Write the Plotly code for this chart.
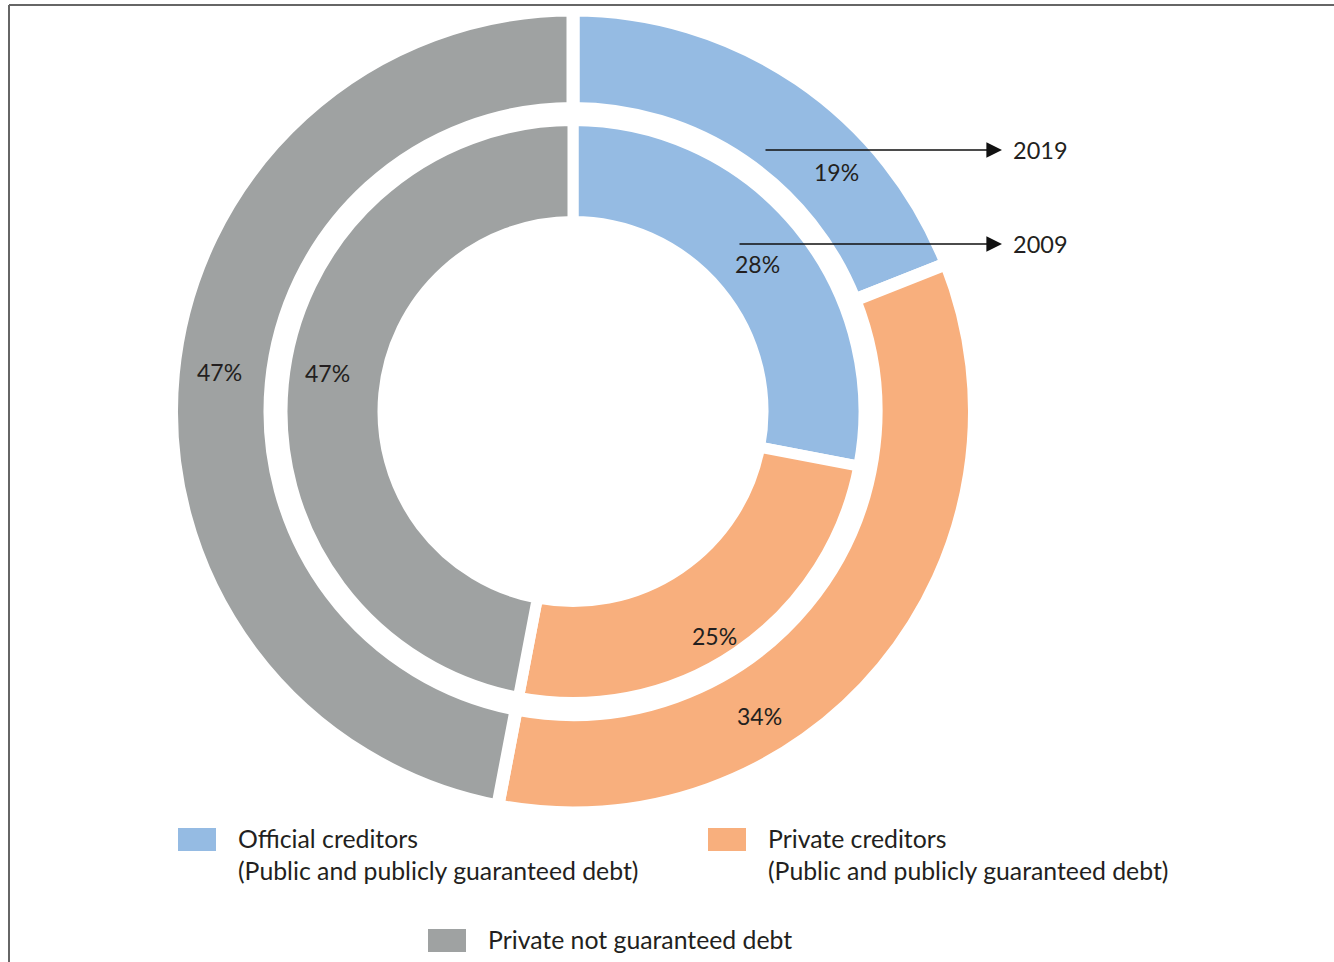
import plotly.graph_objects as go
import math

W, H = 1334, 962

categories = ["Official creditors", "Private creditors", "Private not guaranteed debt"]
legend_lines = ["Official creditors<br>(Public and publicly guaranteed debt)",
                "Private creditors<br>(Public and publicly guaranteed debt)",
                "Private not guaranteed debt"]
values_2019 = [19, 34, 47]
values_2009 = [28, 25, 47]
years = ["2019", "2009"]
colors = ["#95BBE3", "#F8AF7D", "#9FA2A2"]

FONT = "Lato, Carlito, 'Open Sans', sans-serif"
TXT = "#231F20"

def px(x):
    return x / W

def py(y):
    return 1 - y / H

cx, cy = 573, 411.5
# fill radii (outer, inner edge) and white gap of each ring
rings = {"2019": (395, 309.5, 13), "2009": (285.5, 195.5, 11)}
label_shift = {"2019": [13.5, 19, 1], "2009": [1, 2, 3.5]}
label_r = {"2019": [356, 357, 356], "2009": [236, 265, 248]}

fig = go.Figure()
for year, vals in (("2019", values_2019), ("2009", values_2009)):
    ro, ri, gap = rings[year]
    R = ro + gap / 2
    hole = (ri - gap / 2) / R
    fig.add_trace(go.Pie(
        labels=categories, values=vals, hole=hole, sort=False,
        direction="clockwise", rotation=0,
        marker=dict(colors=colors, line=dict(color="white", width=gap)),
        textinfo="none", hoverinfo="label+percent", showlegend=False,
        domain=dict(x=[px(cx - R), px(cx + R)], y=[py(cy + R), py(cy - R)]),
    ))
    # percentage labels
    total = sum(vals)
    cum = 0
    for i, v in enumerate(vals):
        mid = (cum + v / 2) / total * 360 + label_shift[year][i]
        cum += v
        a = math.radians(mid)
        rm = label_r[year][i]
        lx = cx + rm * math.sin(a)
        ly = cy - rm * math.cos(a)
        fig.add_annotation(x=px(lx), y=py(ly), xref="paper", yref="paper",
                           text=f"{v}%", showarrow=False,
                           xanchor="center", yanchor="middle",
                           font=dict(size=23, color=TXT, family=FONT))

# year arrows
arrows = [(764, 150), (738, 244)]
for (x0, y0), yr in zip(arrows, years):
    fig.add_annotation(x=px(1002), y=py(y0), xref="paper", yref="paper",
                       ax=x0 - 1002, ay=0, text="", showarrow=True,
                       arrowhead=2, arrowsize=2.4, arrowwidth=1.3,
                       arrowcolor="#111111", standoff=0)
    fig.add_annotation(x=px(1011), y=py(y0), xref="paper", yref="paper",
                       text=yr, showarrow=False, xanchor="left", yanchor="middle",
                       font=dict(size=23.5, color=TXT, family=FONT))

# custom legend
leg_pos = [(178, 828), (708, 828), (428, 929)]
for (lx, ly), col, txt in zip(leg_pos, colors, legend_lines):
    fig.add_shape(type="rect", xref="paper", yref="paper",
                  x0=px(lx), x1=px(lx + 38), y0=py(ly + 23), y1=py(ly),
                  fillcolor=col, line=dict(width=0))
    fig.add_annotation(x=px(lx + 58), y=py(ly - 6), xref="paper", yref="paper",
                       text=txt, showarrow=False, xanchor="left", yanchor="top",
                       align="left",
                       font=dict(size=24.8, color=TXT, family=FONT))

# frame
fig.add_shape(type="line", xref="paper", yref="paper", x0=px(9), x1=1.01,
              y0=py(5), y1=py(5), line=dict(color="#666666", width=2))
fig.add_shape(type="line", xref="paper", yref="paper", x0=px(9), x1=px(9),
              y0=py(5), y1=-0.01, line=dict(color="#666666", width=2))

fig.update_layout(width=W, height=H, margin=dict(l=0, r=0, t=0, b=0),
                  paper_bgcolor="white", plot_bgcolor="white",
                  font=dict(family=FONT, color=TXT))
fig.write_html("out.html")
